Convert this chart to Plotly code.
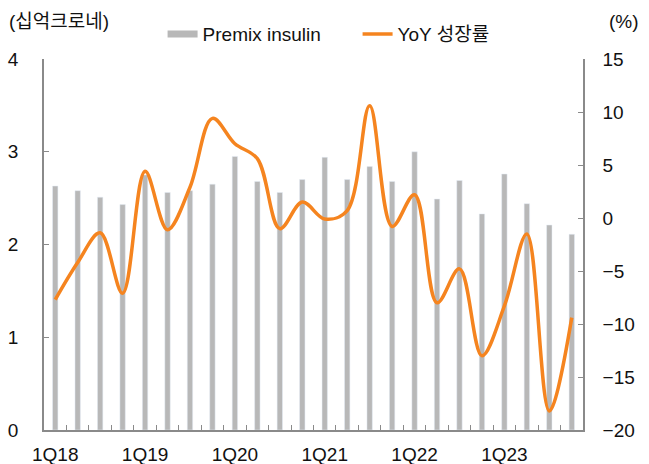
import plotly.graph_objects as go

quarters = [f"{q}Q{y}" for y in range(18, 24) for q in range(1, 5)]
premix = [2.63, 2.58, 2.51, 2.43, 2.75, 2.56, 2.58, 2.65, 2.95, 2.68, 2.56, 2.70,
          2.94, 2.70, 2.84, 2.68, 3.00, 2.49, 2.69, 2.33, 2.76, 2.44, 2.21, 2.11]
yoy = [-7.7, -4.2, -1.4, -7.1, 4.4, -1.1, 2.9, 9.4, 7.0, 5.6, -1.0, 1.5,
       -0.1, 0.7, 10.6, -0.8, 2.2, -8.0, -4.8, -13.0, -8.3, -1.5, -18.2, -9.4]
tick_text = [q if i % 4 == 0 else "" for i, q in enumerate(quarters)]

BAR = "#B8B8B8"
ORANGE = "#F5841F"
AX = "#8A8A8A"
FONT = "Liberation Sans, Arial, Noto Sans CJK KR, sans-serif"

fig = go.Figure()
fig.add_trace(go.Bar(x=quarters, y=premix, marker_color=BAR, showlegend=False, yaxis="y"))
fig.add_trace(go.Scatter(x=[None], y=[None], mode="lines", name="Premix insulin",
                         line=dict(color=BAR, width=7), yaxis="y"))
fig.add_trace(go.Scatter(x=quarters, y=yoy, mode="lines", name="YoY 성장률",
                         line=dict(color=ORANGE, width=3.5, shape="spline", smoothing=1),
                         yaxis="y2"))

fig.update_layout(
    width=649, height=464,
    margin=dict(l=44, r=66, t=59, b=34, autoexpand=False),
    paper_bgcolor="white", plot_bgcolor="white",
    font=dict(family=FONT, size=19, color="#111111"),
    bargap=0.76,
    xaxis=dict(type="category", tickvals=quarters, ticktext=tick_text,
               tickson="boundaries", ticks="inside", ticklen=5, tickcolor=AX,
               showline=True, linecolor=AX, linewidth=1.5, showgrid=False,
               ticklabelstandoff=6, tickangle=0, automargin=False),
    yaxis=dict(range=[0, 4], dtick=1, ticks="inside", ticklen=5, tickcolor=AX,
               showline=True, linecolor=AX, linewidth=1.5, showgrid=False,
               zeroline=False, ticklabelstandoff=20, automargin=False),
    yaxis2=dict(range=[-20, 15], dtick=5, overlaying="y", side="right",
                ticks="inside", ticklen=5, tickcolor=AX,
                showline=True, linecolor=AX, linewidth=1.5, showgrid=False,
                zeroline=False, ticklabelstandoff=14, automargin=False),
    legend=dict(orientation="h", x=0.22, xanchor="left", y=1.067, yanchor="middle",
                font=dict(size=19), bgcolor="rgba(0,0,0,0)", tracegroupgap=0,
                entrywidth=150, entrywidthmode="pixels"),
    annotations=[
        dict(text="(십억크로네)", xref="paper", yref="paper", x=-0.068, y=1.10,
             xanchor="left", yanchor="middle", showarrow=False, font=dict(size=19)),
        dict(text="(%)", xref="paper", yref="paper", x=1.108, y=1.10,
             xanchor="right", yanchor="middle", showarrow=False, font=dict(size=19)),
    ],
)
fig.update_yaxes(tickformat="d")
fig.write_html("out.html", config={"displayModeBar": False},
               post_script="document.body.style.margin='0px';document.body.style.overflow='hidden';")
